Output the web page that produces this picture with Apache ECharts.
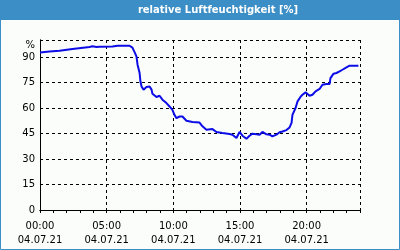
<!DOCTYPE html>
<html>
<head>
<meta charset="utf-8">
<script src="https://cdn.jsdelivr.net/npm/echarts@6/dist/echarts.min.js"></script>
<style>
html,body{margin:0;padding:0;background:#fbfdfb;}
#c{width:400px;height:250px;}
</style>
</head>
<body>
<div id="c"></div>
<script>
var titleText = 'relative Luftfeuchtigkeit [%]';
var dateLabel = '04.07.21';
var yTicks = [0, 15, 30, 45, 60, 75, 90];
var xTickHours = [0, 5, 10, 15, 20];
var times = ['00:00','00:43','01:28','02:26','03:43','03:56','04:14','04:28','05:26','05:49','06:43','06:56','07:05','07:14','07:19','07:28','07:32','07:37','07:46','07:59','08:13','08:22','08:26','08:44','08:58','09:11','09:29','09:43','09:56','10:05','10:14','10:28','10:41','10:59','11:26','11:58','12:11','12:29','12:56','13:14','13:41','14:13','14:26','14:44','14:58','15:11','15:29','15:43','15:56','16:14','16:28','16:41','16:59','17:13','17:26','17:44','17:58','18:11','18:29','18:43','18:52','18:56','19:10','19:19','19:32','19:41','19:55','20:04','20:13','20:26','20:40','20:58','21:11','21:29','21:43','21:47','22:01','22:14','22:28','22:41','22:59','23:13','23:53'];
var humidity = [92.7,93.2,93.7,94.7,95.9,96.3,95.9,96.0,96.2,96.6,96.6,95.5,93.0,90.4,85.5,80.8,75.6,72.7,70.8,72.3,72.7,70.8,68.4,66.5,67.2,64.9,62.9,60.9,58.9,56.0,54.0,55.0,55.0,52.5,51.8,51.4,49.2,47.2,47.6,45.9,45.3,44.7,44.3,42.4,45.9,43.7,41.9,43.7,44.9,44.5,44.3,45.9,44.5,44.3,43.3,44.3,45.7,46.2,47.0,48.6,51.2,56.0,60.0,63.9,66.5,67.8,69.2,68.8,67.2,67.8,69.8,71.2,73.7,74.1,74.1,77.6,80.2,80.6,81.5,82.5,83.9,84.9,84.9];

function toHours(t){var p=t.split(':');return +p[0]+(+p[1])/60;}
var seriesData = times.map(function(t,i){return [toHours(t), humidity[i]];});
function pad(n){return (n<10?'0':'')+n;}

var chart = echarts.init(document.getElementById('c'), null, {renderer:'canvas'});
var font = 'DejaVu Sans';
chart.setOption({
  animation:false,
  backgroundColor:'#fbfdfb',
  textStyle:{fontFamily:font},
  graphic:[
    {type:'rect', shape:{x:0,y:0,width:400,height:20}, style:{fill:'#3b8ec6'}, z:10},
    {type:'rect', shape:{x:0.5,y:0.5,width:399,height:249}, style:{fill:null, stroke:'#3b8ec6', lineWidth:1}, z:10},
    {type:'text', x:218, y:10, style:{text:titleText, fill:'#ffffff', font:'bold 10px "DejaVu Sans"', align:'center', verticalAlign:'middle'}, z:11},
    {type:'text', x:35, y:45, style:{text:'%', fill:'#000', font:'10px "DejaVu Sans"', align:'right', verticalAlign:'middle'}, z:11}
  ],
  grid:{left:40, right:40, top:40, bottom:40, show:false},
  xAxis:[{
    type:'value', min:0, max:24, interval:5,
    axisLine:{show:true, onZero:false, lineStyle:{color:'#000', width:1}},
    axisTick:{show:true, length:3, lineStyle:{color:'#000'}},
    minorTick:{show:true, splitNumber:5, length:3, lineStyle:{color:'#000'}},
    splitLine:{show:true, lineStyle:{color:'#000', type:[3,3], width:1}},
    axisLabel:{color:'#000', fontFamily:font, fontSize:10, lineHeight:14, margin:9,
      formatter:function(v){ if(xTickHours.indexOf(v)<0) return ''; return pad(v)+':00\n'+dateLabel; }}
  },{
    type:'value', position:'top', min:0, max:24,
    axisLine:{show:true, lineStyle:{color:'#000', width:1}},
    axisTick:{show:false}, axisLabel:{show:false}, splitLine:{show:false}
  }],
  yAxis:[{
    type:'value', min:0, max:100, interval:15,
    axisLine:{show:true, onZero:false, lineStyle:{color:'#000', width:1}},
    axisTick:{show:false},
    splitLine:{show:true, lineStyle:{color:'#000', type:[3,3], width:1}},
    axisLabel:{color:'#000', fontFamily:font, fontSize:10, margin:5,
      formatter:function(v){ return yTicks.indexOf(v)<0 ? '' : String(v); }}
  },{
    type:'value', position:'right', min:0, max:100,
    axisLine:{show:true, lineStyle:{color:'#000', width:1}},
    axisTick:{show:false}, axisLabel:{show:false}, splitLine:{show:false}
  }],
  series:[{
    type:'line', data:seriesData, showSymbol:false, symbol:'none',
    lineStyle:{color:'#0c0ce6', width:2}, z:5
  }]
});
</script>
</body>
</html>
